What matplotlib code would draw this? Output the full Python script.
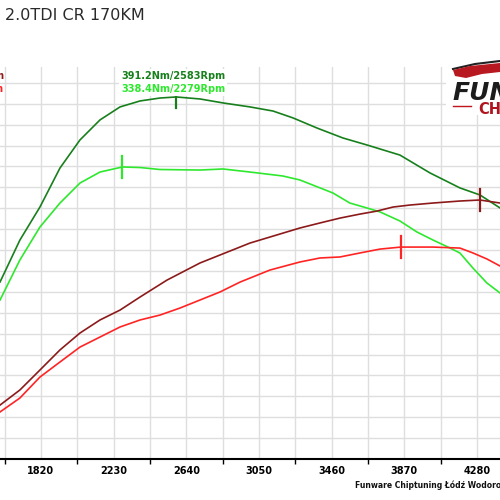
import matplotlib.pyplot as plt
from matplotlib.patches import Rectangle, Polygon
from matplotlib.ticker import FixedLocator
import numpy as np

title = "2.0TDI CR 170KM"
footer = "Funware Chiptuning Łódź Wodorowa"
x_ticks = [1820, 2230, 2640, 3050, 3460, 3870, 4280]

# torque after tuning (Nm)
rpm_tq_tuned = [1589, 1701, 1814, 1927, 2040, 2153, 2266, 2379, 2491, 2583, 2717,
                2847, 2999, 3129, 3242, 3377, 3523, 3659, 3845, 4015, 4184, 4297, 4410]
tq_tuned = [251.7, 283.3, 308.2, 337.6, 358.8, 373.9, 383.7, 388.2, 390.4, 391.2, 389.7,
            386.7, 383.7, 380.6, 375.4, 367.8, 360.3, 355.0, 347.4, 333.9, 322.6, 317.3, 307.5]

# torque stock (Nm)
rpm_tq_stock = [1589, 1701, 1814, 1927, 2040, 2153, 2279, 2379, 2491, 2717, 2847, 2999,
                3185, 3281, 3467, 3563, 3659, 3733, 3845, 3941, 4032, 4128, 4184, 4257, 4336, 4410]
tq_stock = [238.1, 268.3, 293.1, 311.2, 326.3, 334.6, 338.4, 338.0, 336.5, 336.1, 336.9, 334.6,
            331.6, 328.6, 318.8, 311.2, 307.5, 304.5, 297.7, 289.4, 283.3, 277.3, 273.5, 262.2, 250.9, 243.4]

# power after tuning (KM)
rpm_pw_tuned = [1589, 1701, 1814, 1927, 2040, 2153, 2266, 2379, 2531, 2717, 2999, 3281,
                3394, 3507, 3620, 3716, 3806, 3902, 4032, 4184, 4296, 4410]
pw_tuned = [59.9, 70.4, 84.3, 98.3, 110.1, 119.2, 126.1, 135.2, 147.0, 158.9, 172.8, 183.3,
            186.8, 190.2, 193.0, 195.1, 197.9, 199.3, 200.7, 202.1, 202.8, 200.7]

# power stock (KM)
rpm_pw_stock = [1589, 1701, 1814, 1927, 2040, 2153, 2266, 2379, 2491, 2604, 2717, 2830, 2943,
                3112, 3281, 3394, 3507, 3620, 3733, 3850, 4032, 4184, 4257, 4336, 4410]
pw_stock = [55.1, 64.8, 79.4, 89.9, 100.3, 107.3, 114.3, 119.2, 122.6, 127.5, 133.1, 138.7, 145.6,
            154.0, 159.6, 162.4, 163.1, 165.9, 168.6, 170.0, 170.0, 169.3, 165.9, 161.7, 156.8]

c_tq_tuned = '#17801c'
c_tq_stock = '#2ee82e'
c_pw_tuned = '#8c1a1a'
c_pw_stock = '#ff2424'


def px(x, y):
    return x / 500, 1 - y / 500


fig = plt.figure(figsize=(5, 5), dpi=100)
ax = fig.add_axes([0, 41 / 500, 1, 392 / 500])
ax2 = ax.twinx()

ax.set_xlim(1588.7, 4409.8)
ax.set_ylim(118.2, 413.8)
ax2.set_ylim(22.3, 295.5)

step = (x_ticks[1] - x_ticks[0]) / 2
ax.set_xticks(x_ticks)
ax.set_xticklabels([str(t) for t in x_ticks], fontsize=7, fontweight='bold')
ax.xaxis.set_minor_locator(FixedLocator([t - step for t in x_ticks] + [x_ticks[-1] + step]))
ax.tick_params(axis='x', which='major', length=0, pad=5)
ax.tick_params(axis='x', which='minor', length=3.6, width=1, direction='out')
ax.set_yticks(np.arange(118.2, 410, 15.76))
ax.tick_params(axis='y', length=0, labelleft=False)
ax2.set_yticks([])
ax.set_axisbelow(True)
ax.grid(which='both', axis='x', color='#dedede', lw=1.0)
ax.grid(which='major', axis='y', color='#dedede', lw=1.0)
for s in ['left', 'right', 'top']:
    ax.spines[s].set_visible(False)
    ax2.spines[s].set_visible(False)
ax2.spines['bottom'].set_visible(False)
ax.spines['bottom'].set_linewidth(1.5)

ax2.plot(rpm_pw_stock, pw_stock, color=c_pw_stock, lw=1.2)
ax2.plot(rpm_pw_tuned, pw_tuned, color=c_pw_tuned, lw=1.2)
ax.plot(rpm_tq_stock, tq_stock, color=c_tq_stock, lw=1.2)
ax.plot(rpm_tq_tuned, tq_tuned, color=c_tq_tuned, lw=1.2)

# peak markers
i = int(np.argmax(tq_tuned))
ax.plot([rpm_tq_tuned[i]] * 2, [tq_tuned[i] - 8.3, tq_tuned[i] + 8.3], color=c_tq_tuned, lw=1.6)
j = int(np.argmax(tq_stock))
ax.plot([rpm_tq_stock[j]] * 2, [tq_stock[j] - 8.3, tq_stock[j] + 8.3], color=c_tq_stock, lw=1.6)
k = int(np.argmax(pw_tuned))
ax2.plot([rpm_pw_tuned[k]] * 2, [pw_tuned[k] - 7.7, pw_tuned[k] + 7.7], color=c_pw_tuned, lw=1.6)
m = int(np.argmax(pw_stock))
ax2.plot([rpm_pw_stock[m]] * 2, [pw_stock[m] - 7.7, pw_stock[m] + 7.7], color=c_pw_stock, lw=1.6)

box = dict(facecolor='white', edgecolor='none', pad=1.5)
fig.text(*px(121, 76), f"{tq_tuned[i]:.1f}Nm/{rpm_tq_tuned[i]}Rpm", color=c_tq_tuned,
         fontsize=7, fontweight='bold', va='center', bbox=box)
fig.text(*px(121, 89), f"{tq_stock[j]:.1f}Nm/{rpm_tq_stock[j]}Rpm", color=c_tq_stock,
         fontsize=7, fontweight='bold', va='center', bbox=box)
fig.text(*px(4, 76), f"{pw_tuned[k]:.1f}KM/{rpm_pw_tuned[k]}Rpm", color=c_pw_tuned,
         fontsize=7, fontweight='bold', va='center', ha='right')
fig.text(*px(4, 89), f"{pw_stock[m]:.1f}KM/{rpm_pw_stock[m]}Rpm", color=c_pw_stock,
         fontsize=7, fontweight='bold', va='center', ha='right')

fig.text(*px(5, 15), title, fontsize=11.5, color='#2a2a2a', va='center')
fig.text(*px(355, 485), footer, fontsize=5.5, fontweight='bold', color='#111111', va='center')

# logo (cut off at the right edge)
fig.patches.append(Rectangle(px(446, 115), 54 / 500, 60 / 500, transform=fig.transFigure,
                             facecolor='white', edgecolor='none', zorder=1))
fig.patches.append(Polygon([px(453, 70), px(470, 66), px(500, 63), px(500, 72), px(482, 74),
                            px(466, 78), px(455, 76)], closed=True, transform=fig.transFigure,
                           facecolor='#b81820', edgecolor='none', zorder=2))
fig.lines.append(plt.Line2D([453 / 500, 475 / 500, 500 / 500], [1 - 69 / 500, 1 - 64 / 500, 1 - 61 / 500],
                            transform=fig.transFigure, color='#222222', lw=1.5, zorder=2))
fig.text(*px(452, 100), "FUNWARE", fontsize=18, fontweight='bold', fontstyle='italic',
         color='#1c1c1c', va='baseline', zorder=3)
fig.lines.append(plt.Line2D([453 / 500, 471 / 500], [1 - 106 / 500, 1 - 106 / 500],
                            transform=fig.transFigure, color='#c0141c', lw=1, zorder=2))
fig.text(*px(478, 113.5), "CHIPTUNING", fontsize=10.5, fontweight='bold',
         color='#b0141e', va='baseline', zorder=3)

fig.savefig('out.png', dpi=100)
